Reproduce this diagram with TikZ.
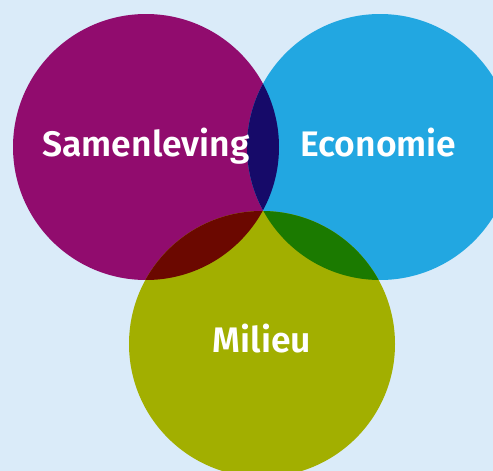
\documentclass[tikz,border=0pt]{standalone}
\usepackage{fontspec}
\setmainfont{Fira Sans}[BoldFont={Fira Sans SemiBold}]
\definecolor{bgc}{HTML}{DAEBF9}
\definecolor{cpurple}{HTML}{910C6E}
\definecolor{cblue}{HTML}{22A7E1}
\definecolor{colive}{HTML}{A2AF00}
\definecolor{cnavy}{HTML}{160A69}
\definecolor{cdred}{HTML}{6B0800}
\definecolor{cgreen}{HTML}{1B7A00}
\tikzset{lbl/.style={text=white,font=\bfseries\fontsize{35.5}{38}\selectfont,inner sep=0pt}}
\begin{document}
\begin{tikzpicture}[x=1pt,y=-1pt]
\fill[bgc] (0,0) rectangle (493,471);
\useasboundingbox (0,0) rectangle (493,471);
\begin{scope}
\clip (0,0) rectangle (493,471);
\fill[cpurple] (146,147) circle[radius=133];
\fill[cblue] (380,147) circle[radius=133];
\fill[colive] (262,344) circle[radius=133];
\begin{scope}
\clip (146,147) circle[radius=133];
\fill[cnavy] (380,147) circle[radius=133];
\fill[cdred] (262,344) circle[radius=133];
\end{scope}
\begin{scope}
\clip (380,147) circle[radius=133];
\fill[cgreen] (262,344) circle[radius=133];
\end{scope}
\end{scope}
\node[lbl,anchor=base] (sam) at (146,156) {Samenleving};
\node[lbl,anchor=base] (eco) at (378.5,156) {Economie};
\node[lbl,anchor=base] (mil) at (262,352) {Milieu};
\end{tikzpicture}
\end{document}
